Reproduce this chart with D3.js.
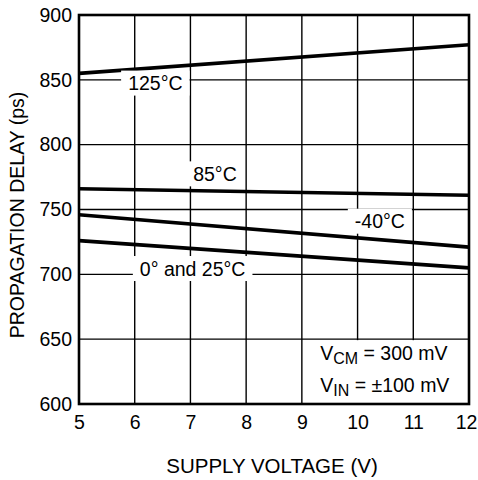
<!DOCTYPE html>
<html>
<head>
<meta charset="utf-8">
<script src="https://cdn.jsdelivr.net/npm/d3@7"></script>
<style>
  html, body { margin: 0; padding: 0; background: #fff; }
  svg text { font-family: "Liberation Sans", Arial, sans-serif; fill: #000; }
</style>
</head>
<body>
<svg id="chart"></svg>
<script>
// supply voltage (V) at the ends of each curve
const voltages = [5, 12];
// propagation delay (ps) per temperature
const series = [
  {name: "125°C", values: [855, 877]},
  {name: "85°C", values: [766, 761]},
  {name: "-40°C", values: [746, 721]},
  {name: "0° and 25°C", values: [726, 705]}
];
const xTicks = [5, 6, 7, 8, 9, 10, 11, 12];
const yTicks = [600, 650, 700, 750, 800, 850, 900];
// label anchor points in data units (voltage, delay)
const labels = [
  {text: "125°C", v: 6.37, d: 847.5},
  {text: "85°C", v: 7.44, d: 777.5},
  {text: "-40°C", v: 10.4, d: 741},
  {text: "0° and 25°C", v: 7.04, d: 704.5}
];

const width = 478, height = 480;
const margin = {top: 15, right: 9, bottom: 76, left: 79};
const fs = 19.5;

const svg = d3.select("#chart")
    .attr("width", width)
    .attr("height", height);

const x = d3.scaleLinear()
    .domain([5, 12])
    .range([margin.left, width - margin.right]);

const y = d3.scaleLinear()
    .domain([600, 900])
    .range([height - margin.bottom, margin.top]);

// grid
svg.append("g")
    .selectAll("line")
    .data(xTicks.slice(1, -1))
    .join("line")
    .attr("x1", d => x(d)).attr("x2", d => x(d))
    .attr("y1", y(900)).attr("y2", y(600))
    .attr("stroke", "#000").attr("stroke-width", 1.4);

svg.append("g")
    .selectAll("line")
    .data(yTicks.slice(1, -1))
    .join("line")
    .attr("x1", x(5)).attr("x2", x(12))
    .attr("y1", d => y(d)).attr("y2", d => y(d))
    .attr("stroke", "#000").attr("stroke-width", 1.4);

// data curves
const line = d3.line()
    .x((d, i) => x(voltages[i]))
    .y(d => y(d));

svg.append("g")
    .selectAll("path")
    .data(series)
    .join("path")
    .attr("d", d => line(d.values))
    .attr("fill", "none")
    .attr("stroke", "#000")
    .attr("stroke-width", 3.6);

// curve labels on white boxes
const lg = svg.append("g")
    .selectAll("g")
    .data(labels)
    .join("g")
    .attr("transform", d => `translate(${x(d.v)},${y(d.d)})`);

lg.append("text")
    .attr("text-anchor", "middle")
    .attr("dy", "0.36em")
    .attr("font-size", fs)
    .text(d => d.text);

lg.each(function() {
    const g = d3.select(this);
    const bb = g.select("text").node().getBBox();
    g.insert("rect", "text")
        .attr("x", bb.x - 7).attr("y", bb.y - 1.5)
        .attr("width", bb.width + 14).attr("height", bb.height + 3)
        .attr("fill", "#fff");
});

// conditions box
svg.append("rect")
    .attr("x", x(9) + 2).attr("y", y(650) + 1)
    .attr("width", x(12) - x(9) - 3).attr("height", y(600) - y(650) - 2)
    .attr("fill", "#fff");

const cond = [
  {main: "V", sub: "CM", rest: " = 300 mV", d: 633.8},
  {main: "V", sub: "IN", rest: " = ±100 mV", d: 609.2}
];
svg.append("g")
    .selectAll("text")
    .data(cond)
    .join("text")
    .attr("x", x(9.33))
    .attr("y", d => y(d.d))
    .attr("font-size", fs)
    .each(function(d) {
        const t = d3.select(this);
        t.append("tspan").text(d.main);
        t.append("tspan").attr("font-size", 16).attr("dy", 4).text(d.sub);
        t.append("tspan").attr("dy", -4).text(d.rest);
    });

// frame
svg.append("rect")
    .attr("x", x(5)).attr("y", y(900))
    .attr("width", x(12) - x(5)).attr("height", y(600) - y(900))
    .attr("fill", "none")
    .attr("stroke", "#000")
    .attr("stroke-width", 2.6);

// axes (tick labels only)
const xAxis = svg.append("g")
    .attr("transform", `translate(0,${y(600)})`)
    .call(d3.axisBottom(x).tickValues(xTicks).tickSize(0).tickPadding(11).tickFormat(d3.format("d")));
xAxis.select(".domain").remove();
xAxis.selectAll("text").attr("font-size", fs).attr("font-family", null)
    .attr("dx", d => d === 12 ? -3 : 0);

const yAxis = svg.append("g")
    .attr("transform", `translate(${x(5)},0)`)
    .call(d3.axisLeft(y).tickValues(yTicks).tickSize(0).tickPadding(7).tickFormat(d3.format("d")));
yAxis.select(".domain").remove();
yAxis.selectAll("text").attr("font-size", fs).attr("font-family", null);

// axis titles
svg.append("text")
    .attr("x", 272)
    .attr("y", 473)
    .attr("text-anchor", "middle")
    .attr("font-size", 20.5)
    .text("SUPPLY VOLTAGE (V)");

svg.append("text")
    .attr("transform", `translate(24,215) rotate(-90)`)
    .attr("text-anchor", "middle")
    .attr("font-size", 19.5)
    .text("PROPAGATION DELAY (ps)");
</script>
</body>
</html>
